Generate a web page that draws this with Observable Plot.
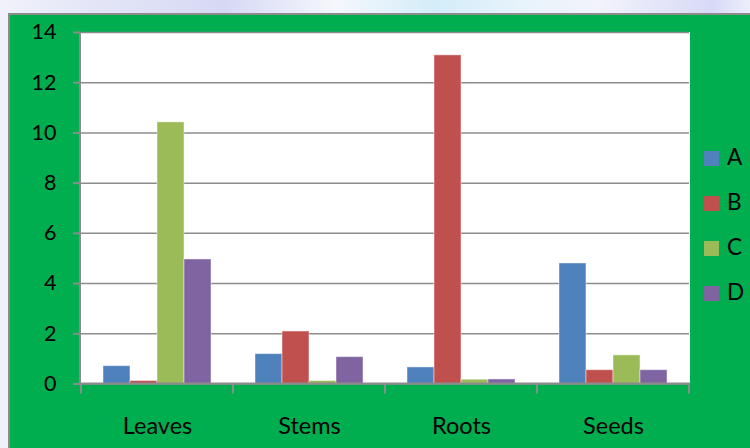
<!DOCTYPE html>
<html>
<head>
<meta charset="utf-8">
<script src="https://cdn.jsdelivr.net/npm/d3@7"></script>
<script src="https://cdn.jsdelivr.net/npm/@observablehq/plot@0.6"></script>
<style>
  html, body { margin: 0; padding: 0; }
  body { width: 750px; height: 448px; overflow: hidden; font-family: Lato, "Open Sans", sans-serif; }
  #page {
    position: relative; width: 750px; height: 448px; overflow: hidden;
    background: linear-gradient(90deg, #f1f2fb 0%, #e4e6f7 12%, #d6d9f4 30%, #f5f7fc 45%, #d3edf9 58%, #e9f3fb 70%, #f2f3fb 80%, #d7daf6 95%, #eceefb 100%);
  }
  #panel {
    position: absolute; left: 8px; top: 13px; right: 0; bottom: 0;
    background: #00ad4f;
    border-left: 2px solid #8c8c8c; border-top: 2px solid #8c8c8c;
  }
  #chart { position: absolute; left: 0; top: 0; }
  .legend-row { position: absolute; left: 704px; display: flex; align-items: flex-start; }
  .legend-swatch { width: 15px; height: 15px; }
  .legend-label { position: absolute; left: 23px; top: -5px; font-size: 22.5px; line-height: 22.5px; color: #000; }
</style>
</head>
<body>
<div id="page">
  <div id="panel"></div>
  <div id="chart"></div>
  <div id="legend"></div>
</div>
<script>
// Plant parts and the four series measured on each
const categories = ["Leaves", "Stems", "Roots", "Seeds"];
const series = ["A", "B", "C", "D"];
const seriesColors = ["#4f81bd", "#c0504d", "#9bbb59", "#8064a2"];
const valuesA = [0.71, 1.19, 0.66, 4.8];
const valuesB = [0.12, 2.09, 13.09, 0.55];
const valuesC = [10.42, 0.12, 0.17, 1.14];
const valuesD = [4.96, 1.07, 0.18, 0.55];
const yTicks = [0, 2, 4, 6, 8, 10, 12, 14];

const valuesBySeries = [valuesA, valuesB, valuesC, valuesD];
const rows = [];
categories.forEach((cat, i) => {
  series.forEach((s, j) => rows.push({category: cat, series: s, value: valuesBySeries[j][i]}));
});

const axisGrey = "#8c8c8c";

const plot = Plot.plot({
  width: 750,
  height: 448,
  marginLeft: 80,
  marginRight: 60,
  marginTop: 32,
  marginBottom: 64.5,
  style: {background: "transparent", fontFamily: "Lato, 'Open Sans', sans-serif", color: "black"},
  fx: {domain: categories, padding: 0, label: null},
  x: {domain: series, paddingInner: 0, paddingOuter: 0.773, axis: null},
  y: {domain: [0, 14], label: null},
  color: {domain: series, range: seriesColors},
  marks: [
    Plot.gridY(yTicks, {stroke: axisGrey, strokeOpacity: 1, strokeWidth: 1.5}),
    Plot.barY(rows, {
      fx: "category", x: "series", y: "value", fill: "series",
      inset: 0, stroke: "white", strokeOpacity: 0.45, strokeWidth: 1
    }),
    Plot.axisY({
      ticks: yTicks, tickSize: 8, tickPadding: 17, fontSize: 21.5,
      stroke: axisGrey, strokeWidth: 2, fill: "black", label: null, tickFormat: d => d
    }),
    Plot.axisFx({
      anchor: "bottom", tickSize: 0, tickPadding: 33, fontSize: 23.5,
      fill: "black", label: null
    })
  ]
});

// White plotting area, axis lines and category separator ticks from the scales
const fx = plot.scale("fx");
const y = plot.scale("y");
const svg = d3.select(plot);
const xLeft = fx.range[0];
const xRight = fx.range[1];
const y0 = y.apply(0);
const yTop = y.apply(14);

// y tick labels at the same size as the category labels' numerals
svg.selectAll('g[aria-label="y-axis tick label"]').attr("font-size", 21.5);
svg.selectAll('g[aria-label="y-axis tick label"] text').attr("font-size", 21.5);

svg.insert("rect", ":first-child")
  .attr("x", xLeft).attr("y", yTop)
  .attr("width", xRight - xLeft).attr("height", y0 - yTop)
  .attr("fill", "white");

const bounds = categories.map(c => fx.apply(c)).concat([fx.apply(categories[categories.length - 1]) + fx.bandwidth]);
const g = svg.append("g").attr("stroke", axisGrey).attr("stroke-width", 2);
g.append("line").attr("x1", xLeft).attr("x2", xRight).attr("y1", y0).attr("y2", y0);
g.append("line").attr("x1", xLeft).attr("x2", xLeft).attr("y1", yTop).attr("y2", y0);
g.selectAll(".sep").data(bounds).join("line")
  .attr("x1", d => d).attr("x2", d => d)
  .attr("y1", y0).attr("y2", y0 + 10);

document.getElementById("chart").appendChild(plot);

// Legend on the right
const color = plot.scale("color");
const legend = d3.select("#legend");
series.forEach((s, i) => {
  const row = legend.append("div").attr("class", "legend-row").style("top", (151.3 + i * 45) + "px");
  row.append("div").attr("class", "legend-swatch").style("background", color.apply(s));
  row.append("div").attr("class", "legend-label").text(s);
});
</script>
</body>
</html>
